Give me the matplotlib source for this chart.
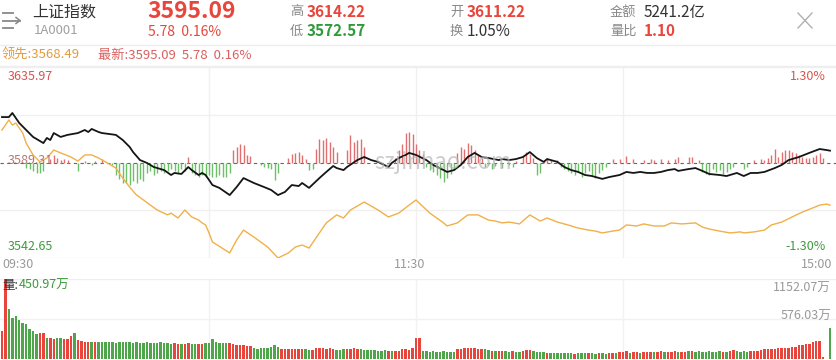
import matplotlib
matplotlib.use("Agg")
import matplotlib.pyplot as plt
from matplotlib.lines import Line2D
import numpy as np

plt.rcParams['font.family'] = ['Noto Sans CJK SC', 'DejaVu Sans']

W, H = 836, 360
PREV = 3589.31          # 昨收
TOP, BOT = 3635.97, 3542.65
VOL_MAX = 1152.07

# ---------- 分时数据 (分钟序号 0..240) ----------
price_t = [0, 2, 3, 5, 7, 9, 12, 13, 14, 15,
           17, 19, 22, 24, 25, 26, 28, 29, 33, 35,
           37, 38, 40, 42, 44, 47, 49, 50, 52, 54,
           55, 57, 58, 59, 60, 61, 63, 66, 68, 70,
           73, 76, 78, 80, 82, 84, 86, 87, 89, 92,
           94, 96, 97, 99, 100, 103, 105, 107, 109, 112,
           113, 115, 117, 118, 120, 123, 125, 128, 129, 131,
           133, 135, 137, 139, 141, 144, 145, 147, 149, 151,
           153, 155, 157, 158, 161, 163, 165, 167, 169, 171,
           174, 176, 179, 181, 183, 185, 187, 189, 191, 193,
           195, 196, 199, 201, 203, 205, 208, 210, 213, 215,
           217, 219, 221, 224, 226, 228, 231, 234, 237, 239,
           240]
price_v = [3611.5, 3611.5, 3613.5, 3608.6, 3605.2, 3601.8, 3598.8, 3601.3, 3600.3, 3603.7,
           3601.8, 3602.8, 3603.7, 3605.2, 3604.2, 3605.7, 3604.2, 3603.7, 3602.8, 3600.3,
           3596.9, 3594.4, 3590.5, 3589.1, 3587.1, 3585.6, 3583.2, 3584.2, 3583.7, 3587.1,
           3585.6, 3583.2, 3584.2, 3583.2, 3580.8, 3578.3, 3576.9, 3573.4, 3577.3, 3581.7,
           3579.3, 3577.3, 3575.9, 3573.4, 3574.9, 3578.3, 3577.8, 3579.3, 3576.9, 3581.7,
           3584.7, 3587.6, 3586.6, 3585.6, 3587.1, 3590.5, 3592.0, 3590.5, 3589.6, 3587.1,
           3589.1, 3591.5, 3593.0, 3594.0, 3593.0, 3590.5, 3588.1, 3585.6, 3584.7, 3585.6,
           3588.1, 3592.0, 3594.0, 3592.0, 3591.5, 3590.5, 3591.0, 3590.5, 3591.0, 3592.0,
           3594.4, 3591.5, 3589.6, 3591.0, 3589.6, 3587.1, 3585.6, 3584.7, 3583.2, 3582.7,
           3581.3, 3582.2, 3583.2, 3584.7, 3584.2, 3584.7, 3584.2, 3584.2, 3584.7, 3585.6,
           3586.1, 3585.2, 3586.1, 3586.6, 3585.2, 3583.7, 3583.2, 3582.7, 3584.2, 3582.7,
           3584.2, 3584.2, 3584.7, 3586.6, 3588.1, 3590.5, 3592.0, 3594.0, 3595.9, 3595.4,
           3595.09]

lead_t = [0, 2, 3, 4, 6, 7, 9, 11, 13, 15,
          17, 20, 22, 24, 26, 28, 30, 33, 35, 37,
          39, 41, 43, 45, 48, 49, 51, 53, 55, 57,
          58, 59, 60, 61, 66, 68, 70, 73, 77, 80,
          83, 85, 87, 89, 92, 94, 97, 99, 101, 105,
          109, 112, 115, 118, 120, 124, 128, 129, 132, 135,
          138, 141, 143, 145, 147, 150, 153, 156, 158, 161,
          164, 167, 170, 172, 174, 177, 179, 181, 184, 186,
          189, 192, 194, 197, 201, 203, 205, 208, 211, 214,
          215, 218, 221, 223, 226, 229, 232, 235, 237, 239,
          240]
lead_v = [3605.2, 3610.1, 3607.6, 3608.6, 3603.7, 3598.8, 3593.0, 3589.6, 3591.5, 3595.4,
          3594.0, 3592.0, 3590.0, 3593.0, 3593.0, 3591.5, 3589.6, 3586.6, 3581.7, 3577.3,
          3573.4, 3571.0, 3568.5, 3566.1, 3563.7, 3564.6, 3562.2, 3566.1, 3562.7, 3561.2,
          3559.8, 3558.8, 3554.9, 3550.5, 3545.1, 3551.4, 3556.3, 3552.9, 3548.0, 3542.65,
          3545.1, 3548.0, 3549.0, 3547.5, 3554.9, 3559.8, 3563.7, 3562.2, 3566.1, 3570.0,
          3566.1, 3562.7, 3564.6, 3568.5, 3571.0, 3564.6, 3559.8, 3558.3, 3559.8, 3563.7,
          3563.7, 3561.2, 3560.7, 3559.8, 3560.2, 3559.3, 3563.7, 3560.7, 3562.2, 3560.2,
          3558.8, 3557.3, 3556.3, 3555.8, 3554.9, 3555.8, 3556.3, 3558.8, 3558.3, 3559.3,
          3558.3, 3558.3, 3559.8, 3559.3, 3559.8, 3557.8, 3556.8, 3555.8, 3554.9, 3555.4,
          3554.9, 3555.4, 3556.3, 3558.8, 3560.2, 3562.7, 3565.1, 3567.1, 3568.5, 3569.0,
          3568.49]

# 红绿柱 (相对昨收, 点)
power_t = [7, 8, 9, 10, 11, 12, 14, 15, 16, 17, 18, 19, 22, 24, 26, 27, 29, 32,
           33, 34, 35, 36, 37, 38, 39, 40, 41, 42, 43, 44, 45, 46, 47, 48, 49,
           50, 51, 52, 53, 54, 55, 56, 57, 58, 59, 60, 61, 62, 63, 64, 65, 66,
           67, 68, 69, 70, 71, 72, 75, 76, 77, 78, 79, 80, 83, 84, 85, 86, 87, 88,
           89, 90, 91, 92, 93, 94, 95, 96, 97, 100, 101, 102, 103, 104, 105,
           114, 115, 116, 117, 118, 119, 120, 121, 122,
           123, 124, 125, 126, 127, 128, 129, 130, 131,
           132, 133, 134, 135, 136, 137, 138, 139,
           140, 141, 142, 143, 145, 147, 148, 149, 151, 152, 153, 154, 155, 156,
           157, 158, 159, 161, 162, 163, 164, 165, 166, 167, 168, 169, 170, 171,
           172, 173, 174, 175, 177, 179, 181, 183, 186, 188, 189, 191, 193, 195,
           196, 199, 200, 202, 203, 204, 205, 206, 207, 208, 209, 210, 211, 212,
           215, 216, 218, 220, 221, 222, 223, 224, 225, 226, 227, 228, 229, 230,
           231, 232, 233, 234, 235, 236, 237, 238]
power_v = [-2.5, -3, -4, -5, -5, -4, 1.5, 3.5, 2, 1, 1.5, 1, -4, 0.5, -1, 0.5, 1.5, -1,
           -6, -8, -10, -10, -11, -9, -10, -8, -9, -5, -4, -6, -5, -4, -5, -4, -3,
           -4, -5, -3, -4, 2.5, -5, -6, -7, -6, -7, -6, -7, -7, -6, -7, -7, -5,
           6, 7.5, 9, 8.5, 3.5, 3, -1, -2, -2.5, -3, -8.5, -5, 2, 4, 4.5, 5, 3.5, 1.5,
           -3.5, -3, 6.8, 11.7, 11.2, 12, 10, 7.7, 5.2, 6, 13.4, 10, 10.9, 11.7, 7.7,
           2, 6, 9, 14.2, 15, 14, 9, 6, 4,
           -2, -3.7, -4.6, -6.2, -7.8, -9.4, -7.8, -5.4, -3.7,
           4.4, 7.7, 6.8, 9.3, 8.5, 6, 3.6, 2,
           -2, -1, -3, -1.5, -2.5, -1, -2, 0.5, 3, 5.2, 4, 2, -6.2, -5,
           1, 2, 1, 1, -2, -3, -4, -5, -6, -4, -7, -5, -4, -6,
           -7.8, -5, -3.5, -2, 1.5, 1.5, 3.3, 1.5, 1.2, 1.5, 1, 1.5, 1.2, 1.5,
           2.5, 2.8, 2.5, 1, -4.6, -5.4, -6.2, -3, -4.6, -3.7, -5.4, -4.6, -3, -2,
           -3, -2, 1, 1.5, 1, 2, 3.6, 6.8, 2.8, 5.2, 6, 6, 5.2, 4.4,
           3.6, 2.8, 2, 2, 2.8, 3.6, 4.4, 2]

# 成交量 (万手), 每分钟一根
volume = [403, 1148, 716, 595, 620, 560, 520, 500, 430, 403,
          355, 375, 375, 307, 307, 295, 307, 307, 285, 285,
          330, 375, 270, 260, 240, 240, 250, 250, 245, 250,
          245, 240, 250, 235, 240, 245, 250, 240, 235, 245,
          230, 235, 240, 230, 225, 235, 240, 225, 230, 220,
          225, 215, 210, 220, 225, 215, 210, 220, 215, 225,
          230, 285, 250, 230, 225, 225, 230, 210, 205, 200,
          195, 190, 185, 160, 150, 155, 160, 165, 170, 195,
          180, 150, 145, 140, 150, 140, 145, 150, 140, 135,
          130, 160, 165, 155, 150, 160, 140, 135, 130, 140,
          145, 150, 155, 150, 140, 135, 130, 125, 130, 120,
          115, 125, 120, 115, 110, 120, 150, 140, 130, 160,
          300, 305, 115, 110, 105, 110, 105, 100, 110, 105,
          100, 105, 140, 150, 155, 160, 165, 160, 150, 145,
          140, 130, 120, 115, 110, 120, 115, 105, 110, 100,
          105, 110, 130, 125, 110, 105, 100, 95, 90, 85,
          90, 85, 80, 90, 85, 80, 75, 80, 85, 90,
          80, 85, 75, 80, 85, 75, 80, 90, 85, 95,
          100, 110, 90, 95, 100, 90, 95, 100, 105, 95,
          100, 110, 95, 100, 105, 115, 100, 95, 105, 110,
          115, 105, 110, 100, 105, 110, 100, 95, 110, 105,
          100, 115, 130, 110, 100, 110, 105, 115, 120, 110,
          125, 140, 145, 150, 145, 155, 160, 165, 160, 170,
          175, 200, 195, 210, 220, 240, 255, 260, 25, 0,
          450.97]
vol_up = ("rrgggggggg" "grrgrrggrr" "rgrrrrgrgg" "gggggggggg" "gggggggggg"
          "rrgrrggrrg" "ggggggrrrr" "rrrggggggg" "grrrrrrrgg" "rrrrrrrggg"
          "rrrrgggggg" "ggrgrrrrrr" "rrgggggggg" "ggrrrrrrrr" "ggrgrrggrg"
          "grrrggggrg" "ggggggrggg" "rggrggrrgr" "rrgrrgrrrg" "rrgrrrgrrg"
          "rggggggggr" "grrggggrrr" "rrrrrrrrrr" "rrrrrrrrrr" "g")

time_ticks = [0, 120, 240]
time_labels = ["09:30", "11:30", "15:00"]

RED, GREEN = '#e8463c', '#4ea64a'
GRAY = '#999999'

fig = plt.figure(figsize=(W / 100, H / 100), dpi=100)
fig.patch.set_facecolor('white')


def txt(x, y, s, **kw):
    kw.setdefault('va', 'center')
    fig.text(x / W, 1 - y / H, s, **kw)


def fline(xs, ys, c, lw=1.0):
    fig.add_artist(Line2D([x / W for x in xs], [1 - y / H for y in ys], color=c, lw=lw))


# ---------- 顶部行情栏 ----------
fline([3, 13], [13, 13], '#888888', 1.3)
fline([3, 20], [20.5, 20.5], '#888888', 1.3)
fline([3, 13], [28, 28], '#888888', 1.3)
fline([16, 20, 16], [17.5, 20.5, 23.5], '#888888', 1.1)
txt(32, 12, "上证指数", fontsize=11.5, color='#333333')
txt(34, 31, "1A0001", fontsize=9.5, color='#a0a0a0')
txt(147, 11, "3595.09", fontsize=16.5, color=RED, fontweight='bold')
txt(148, 32, "5.78  0.16%", fontsize=10, color=RED)
txt(290, 12, "高", fontsize=9.5, color='#888888')
txt(307, 12, "3614.22", fontsize=11, color=RED, fontweight='bold')
txt(290, 31, "低", fontsize=9.5, color='#888888')
txt(307, 31, "3572.57", fontsize=11, color='#2e9a3a', fontweight='bold')
txt(450, 12, "开", fontsize=9.5, color='#888888')
txt(467, 12, "3611.22", fontsize=11, color=RED, fontweight='bold')
txt(450, 31, "换", fontsize=9.5, color='#888888')
txt(467, 31, "1.05%", fontsize=11, color='#333333')
txt(610, 12, "金额", fontsize=9.5, color='#888888')
txt(644, 12, "5241.2亿", fontsize=11, color='#333333')
txt(610, 31, "量比", fontsize=9.5, color='#888888')
txt(644, 31, "1.10", fontsize=11, color=RED, fontweight='bold')
fline([798, 812], [13, 28], '#b0b0b0', 1.0)
fline([812, 798], [13, 28], '#b0b0b0', 1.0)
fline([0, W], [45, 45], '#eeeeee', 1.0)

txt(2, 55, "领先:3568.49", fontsize=9.5, color='#e39a3c')
txt(98, 55, "最新:3595.09  5.78  0.16%", fontsize=9.5, color='#d96060')
fline([0, W], [66, 66], '#eeeeee', 1.0)

# ---------- 分时主图 ----------
x0 = -2 / 3.45
xlim = (x0, x0 + W / 3.45)

ax = fig.add_axes([0, 1 - 258 / H, 1, (258 - 67) / H])
ax.set_xlim(*xlim)
ax.set_ylim(BOT, TOP)
ax.axis('off')
for lv in [TOP, (TOP + PREV) / 2, (PREV + BOT) / 2, BOT]:
    ax.axhline(lv, color='#f0f0f0', lw=1, zorder=0)
for t in [60, 120, 180]:
    ax.axvline(t, color='#f0f0f0', lw=1, zorder=0)
ax.axhline(PREV, color='#666666', lw=0.8, ls=(0, (3, 3)), zorder=1)

pt = np.array(power_t)
pv = np.array(power_v)
ax.vlines(pt[pv > 0], PREV, PREV + pv[pv > 0], color='#e07070', lw=1.0, zorder=2)
ax.vlines(pt[pv < 0], PREV, PREV + pv[pv < 0], color='#6fbf6a', lw=1.0, zorder=2)

ax.plot(lead_t, lead_v, color='#f0b04a', lw=1.0, zorder=3)
ax.plot(price_t, price_v, color='#151515', lw=1.3, zorder=4)

ax.text(0.53, 0.5, "szjinhao.com", transform=ax.transAxes, ha='center', va='center',
        fontsize=16, color='#b8b8b8', alpha=0.7, zorder=5)

txt(8, 76, "%.2f" % TOP, fontsize=9, color='#d9534f')
txt(826, 76, "1.30%", fontsize=9, color='#d9534f', ha='right')
txt(8, 161, "%.2f" % PREV, fontsize=9, color='#a86060', alpha=0.85)
txt(8, 246, "%.2f" % BOT, fontsize=9, color='#3f9a3f')
txt(826, 246, "-1.30%", fontsize=9, color='#3f9a3f', ha='right')

txt(2, 265, time_labels[0], fontsize=9, color=GRAY, ha='left')
txt(2 + time_ticks[1] * 3.45 - 6, 265, time_labels[1], fontsize=9, color=GRAY, ha='center')
txt(832, 265, time_labels[2], fontsize=9, color=GRAY, ha='right')

# ---------- 成交量 ----------
vax = fig.add_axes([0, 1 / H, 1, 80 / H])
vax.set_xlim(*xlim)
vax.set_ylim(0, VOL_MAX)
vax.axis('off')
vax.axhline(VOL_MAX, color='#eeeeee', lw=1, zorder=0)
vax.axhline(VOL_MAX / 2, color='#f2f2f2', lw=1, zorder=0)
for t in [60, 120, 180]:
    vax.axvline(t, color='#f2f2f2', lw=1, zorder=0)
vcol = [RED if c == 'r' else GREEN for c in vol_up]
vax.bar(np.arange(len(volume)), volume, width=0.7, color=vcol, zorder=2)

txt(2, 285, "量:", fontsize=9, color='#333333', zorder=1)
txt(19, 285, "%.2f万" % volume[-1], fontsize=9, color='#3f9a3f')
txt(831, 288, "%.2f万" % VOL_MAX, fontsize=9, color=GRAY, ha='right')
txt(831, 316, "%.2f万" % (VOL_MAX / 2), fontsize=9, color=GRAY, ha='right')

fig.savefig("out.png", dpi=100, facecolor='white')
